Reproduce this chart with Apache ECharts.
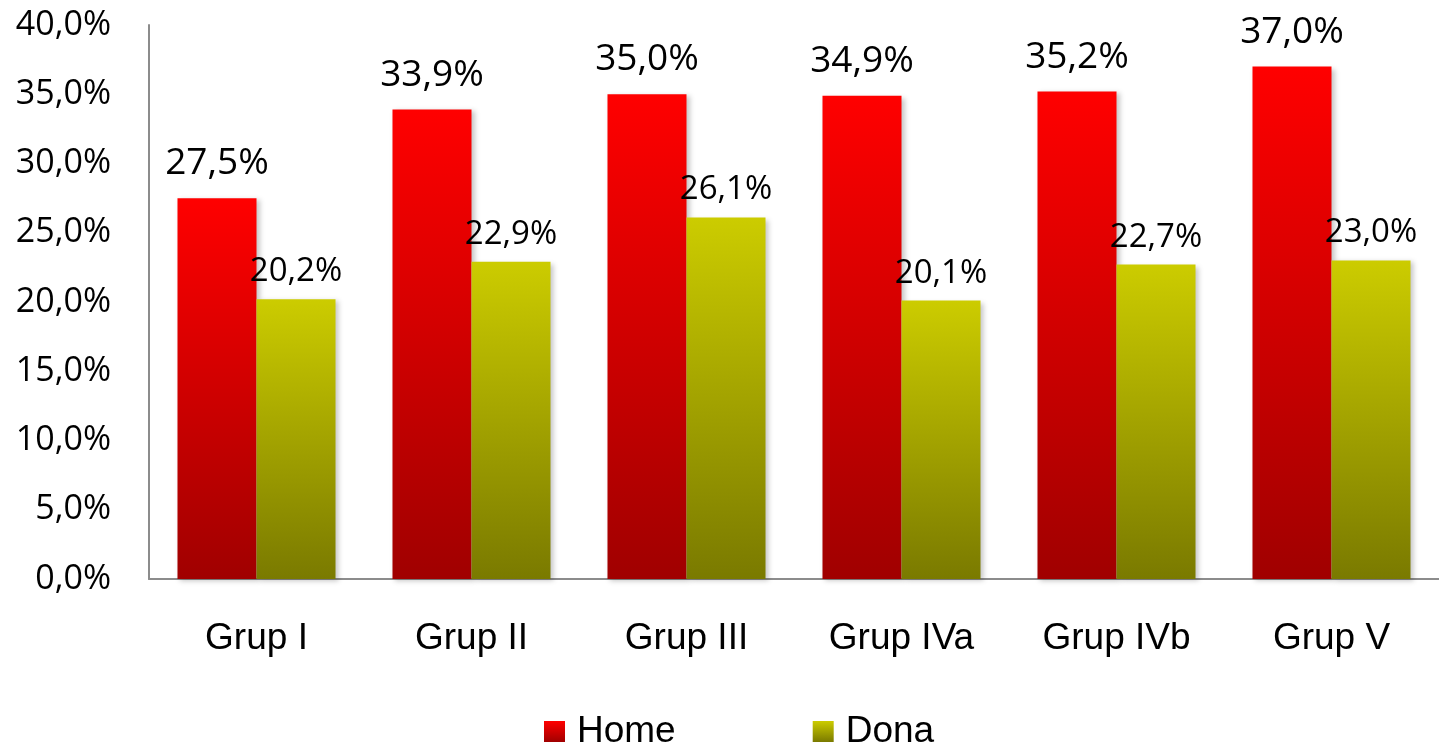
<!DOCTYPE html>
<html>
<head>
<meta charset="utf-8">
<script src="https://cdn.jsdelivr.net/npm/echarts@6/dist/echarts.min.js"></script>
<style>
html,body{margin:0;padding:0;background:#fff;}
#c{width:1439px;height:745px;}
</style>
</head>
<body>
<div id="c"></div>
<script>
var categories = ['Grup I', 'Grup II', 'Grup III', 'Grup IVa', 'Grup IVb', 'Grup V'];
var homeValues = [27.5, 33.9, 35.0, 34.9, 35.2, 37.0];
var donaValues = [20.2, 22.9, 26.1, 20.1, 22.7, 23.0];
var yTicks = [0, 5, 10, 15, 20, 25, 30, 35, 40];

function fmt(v) { return v.toFixed(1).replace('.', ',') + '%'; }

var chart = echarts.init(document.getElementById('c'));
var shadow = { shadowBlur: 5, shadowOffsetX: 3, shadowOffsetY: 2, shadowColor: 'rgba(0,0,0,0.22)' };
chart.setOption({
  animation: false,
  legend: {
    data: ['Home', 'Dona'],
    bottom: -5,
    left: 544,
    padding: 0,
    itemWidth: 21,
    itemHeight: 21,
    itemGap: 137,
    icon: 'rect',
    textStyle: { fontFamily: 'Liberation Sans, Arial', fontSize: 37, color: '#000', padding: [0, 0, 0, 7] }
  },
  grid: { left: 149, right: 0, top: 25, bottom: 166 },
  xAxis: {
    type: 'category',
    data: categories,
    axisLine: { lineStyle: { color: '#8c8c8c', width: 2 } },
    axisTick: { show: false },
    axisLabel: { fontFamily: 'Liberation Sans, Arial', fontSize: 37, color: '#000', margin: 41 }
  },
  yAxis: {
    type: 'value',
    min: yTicks[0],
    max: yTicks[yTicks.length - 1],
    interval: yTicks[1] - yTicks[0],
    axisLine: { show: true, lineStyle: { color: '#8c8c8c', width: 2 } },
    axisTick: { show: false },
    splitLine: { show: false },
    axisLabel: { fontFamily: 'Open Sans', fontSize: 34, color: '#000', margin: 38, formatter: function (v) { return fmt(v); } }
  },
  series: [
    {
      name: 'Home',
      type: 'bar',
      data: homeValues,
      barGap: '0%',
      barCategoryGap: '26.5%',
      itemStyle: Object.assign({
        color: new echarts.graphic.LinearGradient(0, 0, 0, 1, [
          { offset: 0, color: '#ff0000' },
          { offset: 1, color: '#a00000' }
        ])
      }, shadow),
      label: {
        show: true, position: 'top', distance: 16,
        fontFamily: 'Open Sans', fontSize: 37, color: '#000',
        formatter: function (p) { return fmt(p.value); }
      }
    },
    {
      name: 'Dona',
      type: 'bar',
      data: donaValues,
      itemStyle: Object.assign({
        color: new echarts.graphic.LinearGradient(0, 0, 0, 1, [
          { offset: 0, color: '#cccc00' },
          { offset: 1, color: '#7a7a00' }
        ])
      }, shadow),
      label: {
        show: true, position: 'top', distance: 11,
        fontFamily: 'Open Sans', fontSize: 33, color: '#000',
        formatter: function (p) { return fmt(p.value); }
      }
    }
  ]
});
</script>
</body>
</html>
